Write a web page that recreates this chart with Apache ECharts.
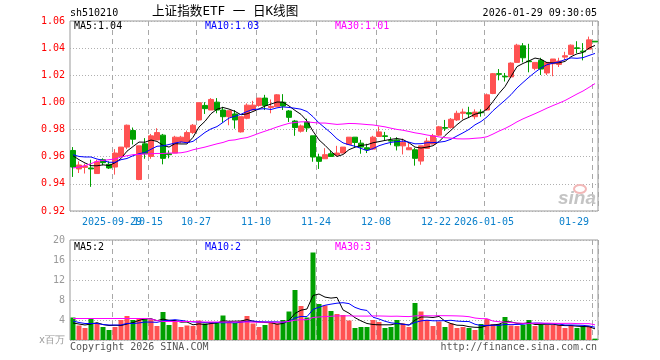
<!DOCTYPE html>
<html><head><meta charset="utf-8">
<script src="https://cdn.jsdelivr.net/npm/echarts@6/dist/echarts.min.js"></script>
<style>html,body{margin:0;padding:0;background:#fff}#c{width:660px;height:360px}</style>
</head><body><div id="c"></div>
<script>
const dates = [
'2025-09-18','2025-09-19','2025-09-22','2025-09-23','2025-09-24','2025-09-25','2025-09-26','2025-09-29','2025-09-30','2025-10-09',
'2025-10-10','2025-10-13','2025-10-14','2025-10-15','2025-10-16','2025-10-17','2025-10-20','2025-10-21','2025-10-22','2025-10-23',
'2025-10-24','2025-10-27','2025-10-28','2025-10-29','2025-10-30','2025-10-31','2025-11-03','2025-11-04','2025-11-05','2025-11-06',
'2025-11-07','2025-11-10','2025-11-11','2025-11-12','2025-11-13','2025-11-14','2025-11-17','2025-11-18','2025-11-19','2025-11-20',
'2025-11-21','2025-11-24','2025-11-25','2025-11-26','2025-11-27','2025-11-28','2025-12-01','2025-12-02','2025-12-03','2025-12-04',
'2025-12-05','2025-12-08','2025-12-09','2025-12-10','2025-12-11','2025-12-12','2025-12-15','2025-12-16','2025-12-17','2025-12-18',
'2025-12-19','2025-12-22','2025-12-23','2025-12-24','2025-12-25','2025-12-26','2025-12-29','2025-12-30','2025-12-31','2026-01-05',
'2026-01-06','2026-01-07','2026-01-08','2026-01-09','2026-01-12','2026-01-13','2026-01-14','2026-01-15','2026-01-16','2026-01-19',
'2026-01-20','2026-01-21','2026-01-22','2026-01-23','2026-01-26','2026-01-27','2026-01-28','2026-01-29'];

const openP = [
0.9646,0.9510,0.9521,0.9517,0.9476,0.9578,0.9544,0.9524,0.9602,0.9671,
0.9793,0.9432,0.9695,0.9602,0.9724,0.9759,0.9622,0.9627,0.9710,0.9705,
0.9778,0.9871,0.9978,0.9944,1.0002,0.9944,0.9895,0.9915,0.9783,0.9883,
0.9944,0.9978,1.0032,0.9963,0.9968,1.0002,0.9937,0.9863,0.9788,0.9856,
0.9754,0.9598,0.9585,0.9622,0.9612,0.9627,0.9690,0.9744,0.9700,0.9666,
0.9656,0.9749,0.9754,0.9720,0.9724,0.9680,0.9651,0.9651,0.9568,0.9661,
0.9693,0.9759,0.9815,0.9815,0.9871,0.9920,0.9924,0.9895,0.9929,0.9944,
1.0066,1.0212,1.0193,1.0188,1.0295,1.0417,1.0305,1.0251,1.0310,1.0217,
1.0285,1.0280,1.0334,1.0354,1.0402,1.0378,1.0393,1.0451];
const closeP = [
0.9524,0.9539,0.9531,0.9510,0.9563,0.9556,0.9517,0.9627,0.9671,0.9832,
0.9729,0.9680,0.9622,0.9754,0.9778,0.9588,0.9615,0.9744,0.9744,0.9778,
0.9832,0.9998,0.9954,1.0022,0.9944,0.9895,0.9939,0.9871,0.9895,0.9980,
0.9980,1.0032,0.9978,0.9971,1.0056,0.9973,0.9890,0.9815,0.9827,0.9812,
0.9598,0.9566,0.9615,0.9602,0.9627,0.9671,0.9744,0.9705,0.9671,0.9651,
0.9744,0.9783,0.9749,0.9715,0.9680,0.9705,0.9666,0.9588,0.9680,0.9715,
0.9754,0.9820,0.9810,0.9876,0.9920,0.9929,0.9915,0.9929,0.9924,1.0056,
1.0212,1.0207,1.0188,1.0290,1.0422,1.0329,1.0300,1.0295,1.0246,1.0295,
1.0320,1.0305,1.0344,1.0422,1.0398,1.0373,1.0461,1.0446];
const lowP = [
0.9451,0.9480,0.9476,0.9378,0.9476,0.9537,0.9510,0.9468,0.9602,0.9656,
0.9690,0.9427,0.9585,0.9585,0.9724,0.9544,0.9588,0.9627,0.9700,0.9700,
0.9768,0.9866,0.9915,0.9944,0.9920,0.9851,0.9832,0.9807,0.9778,0.9876,
0.9944,0.9968,0.9944,0.9920,0.9968,0.9944,0.9856,0.9754,0.9778,0.9783,
0.9563,0.9510,0.9585,0.9598,0.9602,0.9627,0.9690,0.9671,0.9622,0.9627,
0.9651,0.9749,0.9720,0.9685,0.9646,0.9617,0.9651,0.9534,0.9541,0.9661,
0.9693,0.9754,0.9790,0.9807,0.9863,0.9876,0.9885,0.9876,0.9895,0.9939,
1.0061,1.0163,1.0154,1.0188,1.0295,1.0295,1.0222,1.0237,1.0202,1.0202,
1.0193,1.0261,1.0310,1.0349,1.0363,1.0310,1.0388,1.0446];
const highP = [
0.9671,0.9566,0.9549,0.9578,0.9578,0.9588,0.9566,0.9656,0.9671,0.9837,
0.9815,0.9680,0.9737,0.9768,0.9810,0.9768,0.9646,0.9754,0.9754,0.9793,
0.9841,0.9998,1.0002,1.0032,1.0032,0.9968,0.9939,0.9944,0.9895,0.9993,
1.0012,1.0032,1.0056,1.0022,1.0061,1.0061,0.9944,0.9871,0.9837,0.9880,
0.9754,0.9622,0.9663,0.9646,0.9680,0.9671,0.9744,0.9744,0.9724,0.9695,
0.9754,0.9822,0.9783,0.9744,0.9744,0.9734,0.9705,0.9666,0.9680,0.9739,
0.9768,0.9827,0.9871,0.9885,0.9939,0.9954,0.9968,0.9949,0.9949,1.0066,
1.0217,1.0246,1.0217,1.0295,1.0432,1.0437,1.0432,1.0295,1.0329,1.0295,
1.0320,1.0329,1.0373,1.0427,1.0451,1.0437,1.0485,1.0451];

// volume, millions
const volume = [
4.5,2.9,2.4,4.2,3.3,2.6,2.0,2.6,4.0,4.8,
4.0,4.2,4.2,4.1,2.8,5.6,3.0,3.9,2.6,2.9,
2.8,3.9,3.3,3.6,3.4,4.9,3.5,3.4,3.8,4.8,
3.3,2.6,3.0,3.6,3.3,4.0,5.7,10.0,6.8,4.5,
17.5,7.2,6.9,5.8,5.2,5.0,3.9,2.4,2.6,2.6,
4.0,3.6,2.4,2.6,4.0,3.3,2.6,7.4,5.7,4.0,
2.8,3.7,2.6,3.3,2.4,2.6,2.4,2.0,3.2,4.2,
3.2,3.2,4.6,2.9,2.8,3.0,4.0,2.8,3.0,3.0,
3.0,3.0,2.4,3.0,2.4,2.7,2.8,0.27];

const ma5Head  = [0.9607,0.9578,0.9554,0.9534];
const ma10Head = [0.9615,0.9602,0.9598,0.9598,0.9583,0.9573,0.9559,0.9559,0.9578];
const ma30Head = [0.9517,0.9524,0.9534,0.9549,0.9566,0.9573,0.9578,0.9583,0.9598,0.9607,
                  0.9615,0.9617,0.9620,0.9622,0.9624,0.9624,0.9627,0.9627,0.9629,0.9637,
                  0.9651,0.9661,0.9671,0.9683,0.9695,0.9705,0.9720,0.9724,0.9734];
const vMa5Head  = [3.4,3.2,3.0,3.2];
const vMa10Head = [3.8,3.5,3.3,3.3,3.3,3.1,3.0,3.0,3.0];
const vMa30Head = [4.3,4.3,4.3,4.3,4.3,4.3,4.3,4.3,4.3,4.3,
                   4.3,4.3,4.3,4.2,3.9,3.7,3.7,3.7,3.7,3.7,
                   3.7,3.6,3.6,3.6,3.6,3.6,3.6,3.6,3.6];

const labelDates = ['2025-09-29','2025-10-15','2025-10-27','2025-11-10','2025-11-24','2025-12-08','2025-12-22','2026-01-05','2026-01-29'];
const labelText  = ['2025-09-29','10-15','10-27','11-10','11-24','12-08','12-22','2026-01-05','01-29'];

const priceMin = 0.92, priceMax = 1.06, priceStep = 0.02;
const volMin = 0, volMax = 20, volStep = 4;

const legendMain = ['MA5:1.04','MA10:1.03','MA30:1.01'];
const legendVol  = ['MA5:2','MA10:2','MA30:3'];

function movingAvg(vals, n, head) {
  return vals.map((_, i) => {
    if (i < n - 1) return head[i];
    let s = 0; for (let k = i - n + 1; k <= i; k++) s += vals[k];
    return +(s / n).toFixed(4);
  });
}

const UP = '#ff5252', DOWN = '#00a000';
const MONO = '"DejaVu Sans Mono", "Liberation Mono", monospace';
const candleData = dates.map((d, i) => [openP[i], closeP[i], lowP[i], highP[i]]);
const volData = volume.map((v, i) => ({ value: v, itemStyle: { color: closeP[i] >= openP[i] ? UP : DOWN } }));
const showIdx = (i) => labelDates.indexOf(dates[i]) >= 0;

const chart = echarts.init(document.getElementById('c'), null, { renderer: 'canvas' });
const splitX = { show: true, interval: (i) => showIdx(i), lineStyle: { color: '#a8a8a8', type: [5, 4], width: 1 } };
const splitY = { show: true, lineStyle: { color: '#b0b0b0', type: [1, 2], width: 1 } };

function txt(x, y, text, fill, opts) {
  opts = opts || {};
  return { type: 'text', x: x, y: y, silent: true, z: 100,
    style: { text: text, fill: fill, font: opts.font || ('10px ' + MONO),
      align: opts.align || 'left', textAlign: opts.align || 'left',
      verticalAlign: 'middle', textVerticalAlign: 'middle' } };
}

chart.setOption({
  animation: false,
  backgroundColor: '#fff',
  grid: [
    { left: 70, top: 21, width: 528, height: 190, show: true, borderColor: '#999', borderWidth: 1, backgroundColor: 'transparent' },
    { left: 70, top: 240, width: 528, height: 100, show: true, borderColor: '#999', borderWidth: 1, backgroundColor: 'transparent' }
  ],
  xAxis: [
    { type: 'category', gridIndex: 0, data: dates, boundaryGap: true,
      axisLine: { show: false }, axisTick: { show: false }, splitLine: splitX,
      axisLabel: { interval: 0,
        formatter: (v) => { const k = labelDates.indexOf(v); return k >= 0 ? labelText[k] : ''; },
        color: '#0a80cc', fontFamily: MONO, fontSize: 10, margin: 6, padding: [0, 6, 0, 0],
        alignMaxLabel: 'right', hideOverlap: false } },
    { type: 'category', gridIndex: 1, data: dates, boundaryGap: true,
      axisLine: { show: false }, axisTick: { show: false }, splitLine: splitX, axisLabel: { show: false } }
  ],
  yAxis: [
    { type: 'value', gridIndex: 0, min: priceMin, max: priceMax, interval: priceStep,
      axisLine: { show: false }, axisTick: { show: false }, splitLine: splitY,
      axisLabel: { color: '#ff0000', fontFamily: MONO, fontSize: 10, margin: 5, formatter: (v) => v.toFixed(2) } },
    { type: 'value', gridIndex: 1, min: volMin, max: volMax, interval: volStep,
      axisLine: { show: false }, axisTick: { show: false }, splitLine: splitY,
      axisLabel: { color: '#999', fontFamily: MONO, fontSize: 10, margin: 5,
        formatter: (v) => v === 0 ? 'x百万' : String(v) } }
  ],
  series: [
    { type: 'candlestick', xAxisIndex: 0, yAxisIndex: 0, data: candleData, barWidth: 5,
      itemStyle: { color: UP, color0: DOWN, borderColor: UP, borderColor0: DOWN, borderWidth: 1 } },
    { type: 'line', xAxisIndex: 0, yAxisIndex: 0, data: movingAvg(closeP, 5, ma5Head), symbol: 'none', lineStyle: { color: '#000', width: 1 }, z: 5 },
    { type: 'line', xAxisIndex: 0, yAxisIndex: 0, data: movingAvg(closeP, 10, ma10Head), symbol: 'none', lineStyle: { color: '#0000ff', width: 1 }, z: 5 },
    { type: 'line', xAxisIndex: 0, yAxisIndex: 0, data: movingAvg(closeP, 30, ma30Head), symbol: 'none', lineStyle: { color: '#ff00ff', width: 1 }, z: 5 },
    { type: 'bar', xAxisIndex: 1, yAxisIndex: 1, data: volData, barWidth: 5 },
    { type: 'line', xAxisIndex: 1, yAxisIndex: 1, data: movingAvg(volume, 5, vMa5Head), symbol: 'none', lineStyle: { color: '#000', width: 1 }, z: 5 },
    { type: 'line', xAxisIndex: 1, yAxisIndex: 1, data: movingAvg(volume, 10, vMa10Head), symbol: 'none', lineStyle: { color: '#0000ff', width: 1 }, z: 5 },
    { type: 'line', xAxisIndex: 1, yAxisIndex: 1, data: movingAvg(volume, 30, vMa30Head), symbol: 'none', lineStyle: { color: '#ff00ff', width: 1 }, z: 5 }
  ],
  graphic: [
    txt(70, 13, 'sh510210', '#000'),
    txt(152, 12, '上证指数ETF 一 日K线图', '#000', { font: '12.6px "DejaVu Sans Mono", "Noto Sans CJK SC", sans-serif' }),
    txt(597, 13, '2026-01-29 09:30:05', '#000', { align: 'right' }),
    txt(74, 26, legendMain[0], '#000'),
    txt(205, 26, legendMain[1], '#0000ff'),
    txt(335, 26, legendMain[2], '#ff00ff'),
    txt(74, 247, legendVol[0], '#000'),
    txt(205, 247, legendVol[1], '#0000ff'),
    txt(335, 247, legendVol[2], '#ff00ff'),
    txt(70, 347, 'Copyright 2026 SINA.COM', '#555'),
    txt(597, 347, 'http://finance.sina.com.cn', '#555', { align: 'right' }),
    { type: 'ellipse', shape: { cx: 580, cy: 189, rx: 6, ry: 4 }, style: { fill: 'none', stroke: '#f2b8b8', lineWidth: 2 }, silent: true, z: 1 },
    txt(596, 199, 'sina', '#c4c4c4', { align: 'right', font: 'italic bold 19px "Liberation Sans", sans-serif' })
  ]
});
</script></body></html>
